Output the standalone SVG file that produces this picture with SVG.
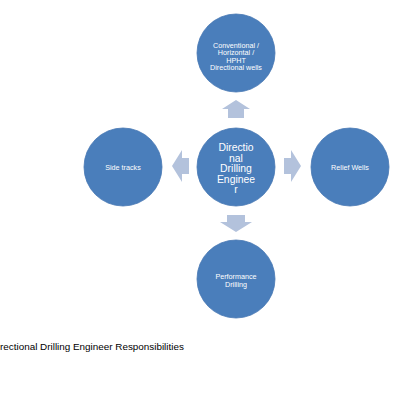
<svg xmlns="http://www.w3.org/2000/svg" width="400" height="400" viewBox="0 0 400 400">
<style>
.c{fill:#4a7ebb;stroke:#4576b3;stroke-width:0.8}
.a{fill:#b3c2dc}
.t{font-family:"Liberation Sans",Arial,sans-serif;fill:#fff;text-anchor:middle}
.s{font-size:7.2px}
.b{font-size:10.4px}
.cap{font-family:"Liberation Sans",Arial,sans-serif;font-size:9.9px;fill:#000}
</style>
<rect width="400" height="400" fill="#fff"/>
<g id="connectors">
<polygon class="a" points="236,100 250,109 244,109 244,118 228,118 228,109 222,109"/>
<polygon class="a" points="172,166 182,150 182,158 189,158 189,174 182,174 182,182"/>
<polygon class="a" points="301,166 291,150 291,158 284,158 284,174 291,174 291,182"/>
<polygon class="a" points="236,232 252,222 245,222 245,215 227,215 227,222 220,222"/>
</g>
<g id="center">
<circle class="c" cx="236" cy="167" r="39"/>
<text class="t b" x="236" y="151">Directio</text>
<text class="t b" x="236" y="161.5">nal</text>
<text class="t b" x="236" y="172">Drilling</text>
<text class="t b" x="236" y="182.5">Enginee</text>
<text class="t b" x="236" y="193">r</text>
</g>
<g id="top">
<circle class="c" cx="236" cy="53" r="39"/>
<text class="t s" x="236" y="47.5">Conventional /</text>
<text class="t s" x="236" y="55">Horizontal /</text>
<text class="t s" x="236" y="62.5">HPHT</text>
<text class="t s" x="236" y="70">Directional wells</text>
</g>
<g id="left">
<circle class="c" cx="123" cy="167" r="39"/>
<text class="t s" x="123" y="169.5">Side tracks</text>
</g>
<g id="right">
<circle class="c" cx="350" cy="167" r="39"/>
<text class="t s" x="350" y="169.5">Relief Wells</text>
</g>
<g id="bottom">
<circle class="c" cx="236" cy="279" r="39"/>
<text class="t s" x="236" y="279">Performance</text>
<text class="t s" x="236" y="287">Drilling</text>
</g>
<text class="cap" x="0" y="350">rectional Drilling Engineer Responsibilities</text>
</svg>
